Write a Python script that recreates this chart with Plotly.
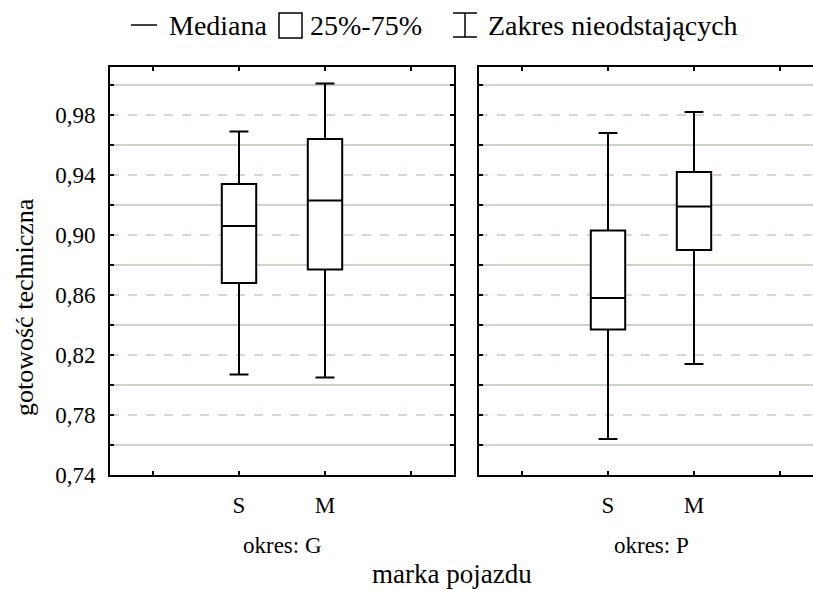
import plotly.graph_objects as go

# Box-plot summary statistics (gotowość techniczna) per period and vehicle make
brands = ["S", "M"]
x_pos = [0, 1]
periods = ["okres: G", "okres: P"]

whisker_low_G = [0.807, 0.805]
q1_G = [0.868, 0.877]
median_G = [0.906, 0.923]
q3_G = [0.934, 0.964]
whisker_high_G = [0.969, 1.001]

whisker_low_P = [0.764, 0.814]
q1_P = [0.837, 0.890]
median_P = [0.858, 0.919]
q3_P = [0.903, 0.942]
whisker_high_P = [0.968, 0.982]

y_tick_vals = [0.74, 0.78, 0.82, 0.86, 0.90, 0.94, 0.98]
y_tick_labels = ["0,74", "0,78", "0,82", "0,86", "0,90", "0,94", "0,98"]
y_minor_vals = [0.76, 0.80, 0.84, 0.88, 0.92, 0.96, 1.00]
x_tick_vals = [-1, 0, 1, 2]
x_tick_labels = ["", "S", "M", ""]

FONT = "Liberation Serif, Times New Roman, serif"
W, H = 813, 590
L, R, T, B = 110, 0, 67, 115
PW, PH = W - L - R, H - T - B


def px(xp):
    return (xp - L) / PW


def py(yp):
    return (H - B - yp) / PH


fig = go.Figure()

for xa, ya, lo, a, m, b, hi in [
    ("x", "y", whisker_low_G, q1_G, median_G, q3_G, whisker_high_G),
    ("x2", "y2", whisker_low_P, q1_P, median_P, q3_P, whisker_high_P),
]:
    fig.add_trace(go.Box(
        x=x_pos, q1=a, median=m, q3=b, lowerfence=lo, upperfence=hi,
        xaxis=xa, yaxis=ya, width=0.4, whiskerwidth=0.55,
        fillcolor="white", line=dict(color="black", width=2),
        boxpoints=False, showlegend=False, hoverinfo="skip",
    ))

yaxis_common = dict(
    range=[0.74, 1.012],
    tickvals=y_tick_vals,
    ticktext=y_tick_labels,
    ticks="inside", ticklen=4, tickwidth=2, tickcolor="black",
    showline=True, linecolor="black", linewidth=2,
    showgrid=True, gridcolor="#ddd2dd", gridwidth=1.5, griddash="dash",
    minor=dict(tickvals=y_minor_vals,
               ticks="inside", ticklen=4, tickwidth=2, tickcolor="black",
               showgrid=True, gridcolor="#cbd3cb", gridwidth=1.5,
               griddash="solid"),
    zeroline=False,
    tickfont=dict(family=FONT, size=23, color="black"),
)

xaxis_common = dict(
    tickvals=x_tick_vals, ticktext=x_tick_labels,
    ticks="inside", ticklen=4, tickwidth=2, tickcolor="black",
    showline=True, linecolor="black", linewidth=2, mirror="allticks",
    showgrid=False, zeroline=False,
    tickfont=dict(family=FONT, size=23, color="black"),
    ticklabelstandoff=8,
)

fig.update_layout(
    width=W, height=H,
    margin=dict(l=L, r=R, t=T, b=B),
    paper_bgcolor="white", plot_bgcolor="white",
    showlegend=False,
    xaxis=dict(domain=[0, px(454)], range=[-1.5, 2.5], anchor="y", **xaxis_common),
    xaxis2=dict(domain=[px(479), 1], range=[-1.5, 2.5 - (823 - 813) / 86],
                anchor="y2", **xaxis_common),
    yaxis=dict(anchor="x", mirror="allticks", showticklabels=True,
               ticklabelstandoff=8, **yaxis_common),
    yaxis2=dict(anchor="x2", matches="y", mirror=False, showticklabels=False,
                **yaxis_common),
)

annotations = [
    dict(text=periods[0], xref="x", x=0.5, yref="paper", y=py(545),
         showarrow=False, xanchor="center", yanchor="middle",
         font=dict(family=FONT, size=23, color="black")),
    dict(text=periods[1], xref="x2", x=0.5, yref="paper", y=py(545),
         showarrow=False, xanchor="center", yanchor="middle",
         font=dict(family=FONT, size=23, color="black")),
    dict(text="marka pojazdu", xref="paper", x=px(452), yref="paper", y=py(574),
         showarrow=False, xanchor="center", yanchor="middle",
         font=dict(family=FONT, size=27, color="black")),
    dict(text="gotowość techniczna", xref="paper", x=px(24), yref="paper", y=py(307),
         showarrow=False, xanchor="center", yanchor="middle", textangle=-90,
         font=dict(family=FONT, size=26, color="black")),
    # legend texts
    dict(text="Mediana", xref="paper", x=px(167), yref="paper", y=py(26),
         showarrow=False, xanchor="left", yanchor="middle",
         font=dict(family=FONT, size=28, color="black")),
    dict(text="25%-75%", xref="paper", x=px(308), yref="paper", y=py(26),
         showarrow=False, xanchor="left", yanchor="middle",
         font=dict(family=FONT, size=28, color="black")),
    dict(text="Zakres nieodstających", xref="paper", x=px(486), yref="paper", y=py(26),
         showarrow=False, xanchor="left", yanchor="middle",
         font=dict(family=FONT, size=28, color="black")),
]
fig.update_layout(annotations=annotations)

# legend symbols
sym = dict(color="black", width=1.5)
shapes = [
    dict(type="line", xref="paper", yref="paper", x0=px(131), x1=px(157),
         y0=py(25), y1=py(25), line=sym),
    dict(type="rect", xref="paper", yref="paper", x0=px(279), x1=px(302),
         y0=py(13), y1=py(38), line=sym, fillcolor="white"),
    dict(type="line", xref="paper", yref="paper", x0=px(465), x1=px(465),
         y0=py(13), y1=py(37), line=sym),
    dict(type="line", xref="paper", yref="paper", x0=px(453), x1=px(477),
         y0=py(13), y1=py(13), line=sym),
    dict(type="line", xref="paper", yref="paper", x0=px(453), x1=px(477),
         y0=py(37), y1=py(37), line=sym),
]
fig.update_layout(shapes=shapes)

fig.write_html("out.html")
